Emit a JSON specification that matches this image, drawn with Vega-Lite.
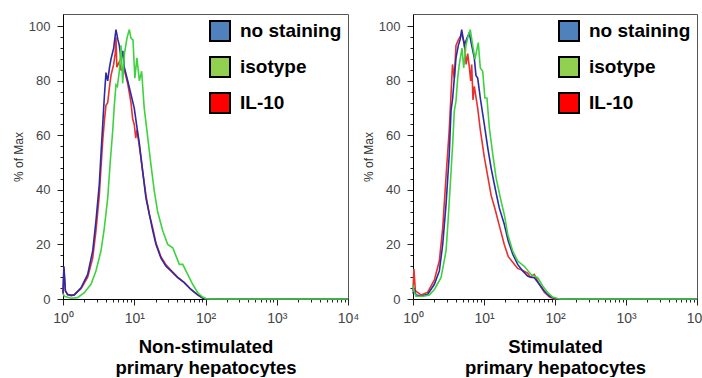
{
  "$schema": "https://vega.github.io/schema/vega-lite/v6.json",
  "padding": {"left": 11, "top": 13, "right": 0, "bottom": 0},
  "bounds": "flush",
  "spacing": 65,
  "datasets": {
    "ns": [
      {"s": "IL-10", "x": 1, "y": 2}, {"s": "IL-10", "x": 1.03, "y": 11}, {"s": "IL-10", "x": 1.08, "y": 3}, {"s": "IL-10", "x": 1.16, "y": 1.5}, {"s": "IL-10", "x": 1.44, "y": 1.6}, {"s": "IL-10", "x": 1.79, "y": 3.8}, {"s": "IL-10", "x": 2.22, "y": 8}, {"s": "IL-10", "x": 2.61, "y": 15}, {"s": "IL-10", "x": 2.9, "y": 25}, {"s": "IL-10", "x": 3.23, "y": 38}, {"s": "IL-10", "x": 3.41, "y": 48}, {"s": "IL-10", "x": 3.61, "y": 58}, {"s": "IL-10", "x": 3.8, "y": 65}, {"s": "IL-10", "x": 4.01, "y": 71}, {"s": "IL-10", "x": 4.24, "y": 72}, {"s": "IL-10", "x": 4.5, "y": 78}, {"s": "IL-10", "x": 4.72, "y": 82}, {"s": "IL-10", "x": 5.14, "y": 86}, {"s": "IL-10", "x": 5.4, "y": 90}, {"s": "IL-10", "x": 5.54, "y": 96}, {"s": "IL-10", "x": 5.7, "y": 85}, {"s": "IL-10", "x": 6.17, "y": 87}, {"s": "IL-10", "x": 6.52, "y": 84}, {"s": "IL-10", "x": 7.25, "y": 84}, {"s": "IL-10", "x": 8.09, "y": 79}, {"s": "IL-10", "x": 9.0, "y": 72}, {"s": "IL-10", "x": 9.5, "y": 66}, {"s": "IL-10", "x": 10.0, "y": 64}, {"s": "IL-10", "x": 10.5, "y": 59}, {"s": "IL-10", "x": 10.9, "y": 62}, {"s": "IL-10", "x": 11.8, "y": 56}, {"s": "IL-10", "x": 13.1, "y": 47}, {"s": "IL-10", "x": 14.6, "y": 38}, {"s": "IL-10", "x": 16.3, "y": 31}, {"s": "IL-10", "x": 18.2, "y": 26}, {"s": "IL-10", "x": 20.2, "y": 20.5}, {"s": "IL-10", "x": 23.7, "y": 15.5}, {"s": "IL-10", "x": 27.9, "y": 12.5}, {"s": "IL-10", "x": 32.8, "y": 10.5}, {"s": "IL-10", "x": 40.7, "y": 8}, {"s": "IL-10", "x": 50.4, "y": 6}, {"s": "IL-10", "x": 62.5, "y": 3.5}, {"s": "IL-10", "x": 77.8, "y": 1.5}, {"s": "IL-10", "x": 91.4, "y": 0.4}, {"s": "IL-10", "x": 100, "y": 0}, {"s": "IL-10", "x": 1000, "y": 0}, {"s": "IL-10", "x": 10000, "y": 0},
      {"s": "no staining", "x": 1, "y": 2}, {"s": "no staining", "x": 1.03, "y": 12}, {"s": "no staining", "x": 1.08, "y": 3}, {"s": "no staining", "x": 1.16, "y": 1.7}, {"s": "no staining", "x": 1.3, "y": 1.2}, {"s": "no staining", "x": 1.44, "y": 1.5}, {"s": "no staining", "x": 1.79, "y": 4.1}, {"s": "no staining", "x": 2.22, "y": 9}, {"s": "no staining", "x": 2.61, "y": 17.6}, {"s": "no staining", "x": 2.9, "y": 28.6}, {"s": "no staining", "x": 3.23, "y": 42}, {"s": "no staining", "x": 3.41, "y": 53}, {"s": "no staining", "x": 3.61, "y": 64}, {"s": "no staining", "x": 3.8, "y": 74}, {"s": "no staining", "x": 4.01, "y": 83}, {"s": "no staining", "x": 4.24, "y": 80}, {"s": "no staining", "x": 4.5, "y": 85}, {"s": "no staining", "x": 4.72, "y": 88}, {"s": "no staining", "x": 5.14, "y": 92}, {"s": "no staining", "x": 5.54, "y": 98.8}, {"s": "no staining", "x": 5.9, "y": 95}, {"s": "no staining", "x": 6.17, "y": 93}, {"s": "no staining", "x": 6.52, "y": 88}, {"s": "no staining", "x": 6.9, "y": 91}, {"s": "no staining", "x": 7.25, "y": 85}, {"s": "no staining", "x": 8.09, "y": 80}, {"s": "no staining", "x": 9.0, "y": 75}, {"s": "no staining", "x": 10.0, "y": 70}, {"s": "no staining", "x": 10.9, "y": 63}, {"s": "no staining", "x": 11.8, "y": 57}, {"s": "no staining", "x": 13.1, "y": 47}, {"s": "no staining", "x": 14.6, "y": 37}, {"s": "no staining", "x": 16.3, "y": 31}, {"s": "no staining", "x": 18.2, "y": 25}, {"s": "no staining", "x": 20.2, "y": 20}, {"s": "no staining", "x": 23.7, "y": 15}, {"s": "no staining", "x": 27.9, "y": 12}, {"s": "no staining", "x": 32.8, "y": 10.3}, {"s": "no staining", "x": 40.7, "y": 7.8}, {"s": "no staining", "x": 50.4, "y": 6}, {"s": "no staining", "x": 62.5, "y": 3.5}, {"s": "no staining", "x": 77.8, "y": 1.5}, {"s": "no staining", "x": 91.4, "y": 0.4}, {"s": "no staining", "x": 100, "y": 0}, {"s": "no staining", "x": 1000, "y": 0}, {"s": "no staining", "x": 10000, "y": 0},
      {"s": "isotype", "x": 1, "y": 2}, {"s": "isotype", "x": 1.05, "y": 1}, {"s": "isotype", "x": 1.1, "y": 0.8}, {"s": "isotype", "x": 1.3, "y": 0.3}, {"s": "isotype", "x": 1.6, "y": 0.5}, {"s": "isotype", "x": 1.99, "y": 2.3}, {"s": "isotype", "x": 2.47, "y": 5.4}, {"s": "isotype", "x": 2.9, "y": 10.3}, {"s": "isotype", "x": 3.41, "y": 17.6}, {"s": "isotype", "x": 3.8, "y": 26}, {"s": "isotype", "x": 4.24, "y": 37}, {"s": "isotype", "x": 4.61, "y": 50.5}, {"s": "isotype", "x": 4.98, "y": 61.5}, {"s": "isotype", "x": 5.25, "y": 71}, {"s": "isotype", "x": 5.54, "y": 78.6}, {"s": "isotype", "x": 5.8, "y": 78}, {"s": "isotype", "x": 6.17, "y": 83.5}, {"s": "isotype", "x": 6.52, "y": 93}, {"s": "isotype", "x": 6.88, "y": 79}, {"s": "isotype", "x": 7.25, "y": 89.6}, {"s": "isotype", "x": 7.91, "y": 95.7}, {"s": "isotype", "x": 8.53, "y": 98.8}, {"s": "isotype", "x": 9.0, "y": 95.7}, {"s": "isotype", "x": 9.6, "y": 95}, {"s": "isotype", "x": 10.2, "y": 81}, {"s": "isotype", "x": 10.9, "y": 88.4}, {"s": "isotype", "x": 11.8, "y": 80}, {"s": "isotype", "x": 12.7, "y": 83.5}, {"s": "isotype", "x": 13.8, "y": 70}, {"s": "isotype", "x": 15.5, "y": 59}, {"s": "isotype", "x": 17.2, "y": 49}, {"s": "isotype", "x": 19.1, "y": 39.6}, {"s": "isotype", "x": 21.3, "y": 32}, {"s": "isotype", "x": 25.1, "y": 25}, {"s": "isotype", "x": 29.5, "y": 20}, {"s": "isotype", "x": 34.7, "y": 18.8}, {"s": "isotype", "x": 38.5, "y": 15.8}, {"s": "isotype", "x": 42.9, "y": 12.7}, {"s": "isotype", "x": 47.9, "y": 12.7}, {"s": "isotype", "x": 56.2, "y": 9}, {"s": "isotype", "x": 66.1, "y": 5.4}, {"s": "isotype", "x": 77.8, "y": 2.3}, {"s": "isotype", "x": 91.4, "y": 0.7}, {"s": "isotype", "x": 101.6, "y": 0.2}, {"s": "isotype", "x": 120, "y": 0}, {"s": "isotype", "x": 1000, "y": 0}, {"s": "isotype", "x": 10000, "y": 0}
    ],
    "st": [
      {"s": "IL-10", "x": 1, "y": 3}, {"s": "IL-10", "x": 1.03, "y": 11}, {"s": "IL-10", "x": 1.08, "y": 3}, {"s": "IL-10", "x": 1.3, "y": 1.5}, {"s": "IL-10", "x": 1.61, "y": 2.5}, {"s": "IL-10", "x": 2.0, "y": 7}, {"s": "IL-10", "x": 2.35, "y": 14}, {"s": "IL-10", "x": 2.62, "y": 26}, {"s": "IL-10", "x": 2.92, "y": 45}, {"s": "IL-10", "x": 3.24, "y": 62}, {"s": "IL-10", "x": 3.43, "y": 75}, {"s": "IL-10", "x": 3.6, "y": 86}, {"s": "IL-10", "x": 3.82, "y": 81}, {"s": "IL-10", "x": 4.03, "y": 93}, {"s": "IL-10", "x": 4.35, "y": 95}, {"s": "IL-10", "x": 4.85, "y": 97}, {"s": "IL-10", "x": 5.28, "y": 94}, {"s": "IL-10", "x": 5.6, "y": 86}, {"s": "IL-10", "x": 5.9, "y": 90}, {"s": "IL-10", "x": 6.21, "y": 85}, {"s": "IL-10", "x": 6.5, "y": 80}, {"s": "IL-10", "x": 6.71, "y": 86}, {"s": "IL-10", "x": 7.0, "y": 73}, {"s": "IL-10", "x": 7.3, "y": 78}, {"s": "IL-10", "x": 8.15, "y": 70}, {"s": "IL-10", "x": 8.87, "y": 62}, {"s": "IL-10", "x": 10.1, "y": 52}, {"s": "IL-10", "x": 11.3, "y": 45}, {"s": "IL-10", "x": 12.6, "y": 38}, {"s": "IL-10", "x": 14.3, "y": 33}, {"s": "IL-10", "x": 16.4, "y": 27}, {"s": "IL-10", "x": 19.3, "y": 20}, {"s": "IL-10", "x": 22, "y": 15.5}, {"s": "IL-10", "x": 25.4, "y": 13.5}, {"s": "IL-10", "x": 29.8, "y": 11.2}, {"s": "IL-10", "x": 35.1, "y": 10.5}, {"s": "IL-10", "x": 41.2, "y": 9.5}, {"s": "IL-10", "x": 45, "y": 8}, {"s": "IL-10", "x": 51.1, "y": 9}, {"s": "IL-10", "x": 60.1, "y": 5.4}, {"s": "IL-10", "x": 70.7, "y": 2.5}, {"s": "IL-10", "x": 83.2, "y": 0.8}, {"s": "IL-10", "x": 97, "y": 0}, {"s": "IL-10", "x": 1000, "y": 0}, {"s": "IL-10", "x": 10000, "y": 0},
      {"s": "no staining", "x": 1, "y": 2}, {"s": "no staining", "x": 1.03, "y": 4}, {"s": "no staining", "x": 1.1, "y": 1.5}, {"s": "no staining", "x": 1.3, "y": 1.1}, {"s": "no staining", "x": 1.61, "y": 1.7}, {"s": "no staining", "x": 2.0, "y": 5.4}, {"s": "no staining", "x": 2.35, "y": 10.3}, {"s": "no staining", "x": 2.62, "y": 20}, {"s": "no staining", "x": 2.92, "y": 34.7}, {"s": "no staining", "x": 3.24, "y": 53}, {"s": "no staining", "x": 3.43, "y": 69}, {"s": "no staining", "x": 3.62, "y": 73.7}, {"s": "no staining", "x": 3.82, "y": 81}, {"s": "no staining", "x": 4.03, "y": 88.4}, {"s": "no staining", "x": 4.35, "y": 93}, {"s": "no staining", "x": 4.6, "y": 95}, {"s": "no staining", "x": 4.85, "y": 98.8}, {"s": "no staining", "x": 5.28, "y": 93}, {"s": "no staining", "x": 5.77, "y": 95.7}, {"s": "no staining", "x": 6.21, "y": 97.6}, {"s": "no staining", "x": 6.71, "y": 93}, {"s": "no staining", "x": 7.3, "y": 88.4}, {"s": "no staining", "x": 7.7, "y": 82}, {"s": "no staining", "x": 8.15, "y": 81}, {"s": "no staining", "x": 8.87, "y": 73.7}, {"s": "no staining", "x": 10.1, "y": 64}, {"s": "no staining", "x": 11.3, "y": 55.4}, {"s": "no staining", "x": 12.6, "y": 48}, {"s": "no staining", "x": 14.3, "y": 40.8}, {"s": "no staining", "x": 16.4, "y": 33.4}, {"s": "no staining", "x": 19.3, "y": 27.4}, {"s": "no staining", "x": 22.0, "y": 21.2}, {"s": "no staining", "x": 25.4, "y": 16.4}, {"s": "no staining", "x": 29.8, "y": 12.7}, {"s": "no staining", "x": 35.1, "y": 10.3}, {"s": "no staining", "x": 41.2, "y": 8.4}, {"s": "no staining", "x": 45, "y": 8}, {"s": "no staining", "x": 51.1, "y": 7.8}, {"s": "no staining", "x": 60.1, "y": 5.4}, {"s": "no staining", "x": 70.7, "y": 2.9}, {"s": "no staining", "x": 83.2, "y": 1.1}, {"s": "no staining", "x": 97.7, "y": 0.3}, {"s": "no staining", "x": 110, "y": 0}, {"s": "no staining", "x": 1000, "y": 0}, {"s": "no staining", "x": 10000, "y": 0},
      {"s": "isotype", "x": 1, "y": 5}, {"s": "isotype", "x": 1.03, "y": 3}, {"s": "isotype", "x": 1.1, "y": 1}, {"s": "isotype", "x": 1.4, "y": 1}, {"s": "isotype", "x": 1.7, "y": 1.5}, {"s": "isotype", "x": 2.0, "y": 3.5}, {"s": "isotype", "x": 2.48, "y": 7.8}, {"s": "isotype", "x": 2.92, "y": 17.6}, {"s": "isotype", "x": 3.14, "y": 29.8}, {"s": "isotype", "x": 3.35, "y": 42}, {"s": "isotype", "x": 3.62, "y": 56.7}, {"s": "isotype", "x": 3.82, "y": 69}, {"s": "isotype", "x": 4.03, "y": 72.5}, {"s": "isotype", "x": 4.26, "y": 81}, {"s": "isotype", "x": 4.49, "y": 86}, {"s": "isotype", "x": 4.9, "y": 92}, {"s": "isotype", "x": 5.18, "y": 84.7}, {"s": "isotype", "x": 5.57, "y": 93}, {"s": "isotype", "x": 5.89, "y": 95.7}, {"s": "isotype", "x": 6.41, "y": 98.8}, {"s": "isotype", "x": 6.93, "y": 93}, {"s": "isotype", "x": 7.47, "y": 88}, {"s": "isotype", "x": 8.31, "y": 94}, {"s": "isotype", "x": 8.87, "y": 84.7}, {"s": "isotype", "x": 9.59, "y": 83.5}, {"s": "isotype", "x": 10.3, "y": 73.7}, {"s": "isotype", "x": 11.0, "y": 73.7}, {"s": "isotype", "x": 11.9, "y": 62.7}, {"s": "isotype", "x": 13.3, "y": 53}, {"s": "isotype", "x": 14.8, "y": 44.4}, {"s": "isotype", "x": 17.4, "y": 35.9}, {"s": "isotype", "x": 19.3, "y": 31}, {"s": "isotype", "x": 21.6, "y": 23.7}, {"s": "isotype", "x": 25.4, "y": 17.6}, {"s": "isotype", "x": 29.8, "y": 13.9}, {"s": "isotype", "x": 37, "y": 12}, {"s": "isotype", "x": 45.9, "y": 9}, {"s": "isotype", "x": 57, "y": 7.8}, {"s": "isotype", "x": 67.1, "y": 4.8}, {"s": "isotype", "x": 78.9, "y": 2.3}, {"s": "isotype", "x": 92.9, "y": 0.7}, {"s": "isotype", "x": 109, "y": 0.2}, {"s": "isotype", "x": 120, "y": 0}, {"s": "isotype", "x": 1000, "y": 0}, {"s": "isotype", "x": 10000, "y": 0}
    ]
  },
  "hconcat": [
    {
      "data": {"name": "ns"},
      "width": 285,
      "height": 285,
      "encoding": {
        "x": {"field": "x", "type": "quantitative", "scale": {"type": "log", "domain": [1, 10000]},
          "axis": {"title": ["Non-stimulated", "primary hepatocytes"],
            "values": [1,2,3,4,5,6,7,8,9,10,20,30,40,50,60,70,80,90,100,200,300,400,500,600,700,800,900,1000,2000,3000,4000,5000,6000,7000,8000,9000,10000],
            "labelExpr": "indexof([1,10,100,1000,10000], datum.value) >= 0 ? '10' + ['⁰','¹','²','³','⁴'][round(log(datum.value)/LN10)] : ''",
            "tickSize": {"condition": {"test": "indexof([1,10,100,1000,10000], datum.value) >= 0", "value": 6}, "value": 3}}},
        "y": {"field": "y", "type": "quantitative", "scale": {"domain": [0, 104.5], "nice": false},
          "axis": {"title": "% of Max",
            "values": [0,4,8,12,16,20,24,28,32,36,40,44,48,52,56,60,64,68,72,76,80,84,88,92,96,100],
            "labelExpr": "datum.value % 20 === 0 ? datum.label : ''",
            "tickSize": {"condition": {"test": "datum.value % 20 === 0", "value": 6}, "value": 3}}}
      },
      "layer": [
        {
          "mark": {"type": "line", "strokeWidth": 1.6},
          "encoding": {
            "color": {"field": "s", "type": "nominal",
              "scale": {"domain": ["no staining", "isotype", "IL-10"], "range": ["#2b2ba6", "#3fd23f", "#e8312f"]},
              "legend": null}
          }
        },
        {
          "transform": [{"filter": "datum.y < 0"}],
          "mark": {"type": "point", "shape": "square", "filled": true, "stroke": "#000000", "strokeWidth": 2, "opacity": 1},
          "encoding": {
            "fill": {"field": "s", "type": "nominal",
              "scale": {"domain": ["no staining", "isotype", "IL-10"], "range": ["#4f81bd", "#92d050", "#ff0000"]},
              "legend": {"title": null, "orient": "top-right", "offset": 6}}
          }
        }
      ]
    },
    {
      "data": {"name": "st"},
      "width": 284,
      "height": 285,
      "encoding": {
        "x": {"field": "x", "type": "quantitative", "scale": {"type": "log", "domain": [1, 10000]},
          "axis": {"title": ["Stimulated", "primary hepatocytes"],
            "values": [1,2,3,4,5,6,7,8,9,10,20,30,40,50,60,70,80,90,100,200,300,400,500,600,700,800,900,1000,2000,3000,4000,5000,6000,7000,8000,9000,10000],
            "labelExpr": "indexof([1,10,100,1000,10000], datum.value) >= 0 ? '10' + ['⁰','¹','²','³','⁴'][round(log(datum.value)/LN10)] : ''",
            "tickSize": {"condition": {"test": "indexof([1,10,100,1000,10000], datum.value) >= 0", "value": 6}, "value": 3}}},
        "y": {"field": "y", "type": "quantitative", "scale": {"domain": [0, 104.5], "nice": false},
          "axis": {"title": "% of Max",
            "values": [0,4,8,12,16,20,24,28,32,36,40,44,48,52,56,60,64,68,72,76,80,84,88,92,96,100],
            "labelExpr": "datum.value % 20 === 0 ? datum.label : ''",
            "tickSize": {"condition": {"test": "datum.value % 20 === 0", "value": 6}, "value": 3}}}
      },
      "layer": [
        {
          "mark": {"type": "line", "strokeWidth": 1.6},
          "encoding": {
            "color": {"field": "s", "type": "nominal",
              "scale": {"domain": ["no staining", "isotype", "IL-10"], "range": ["#2b2ba6", "#3fd23f", "#e8312f"]},
              "legend": null}
          }
        },
        {
          "transform": [{"filter": "datum.y < 0"}],
          "mark": {"type": "point", "shape": "square", "filled": true, "stroke": "#000000", "strokeWidth": 2, "opacity": 1},
          "encoding": {
            "fill": {"field": "s", "type": "nominal",
              "scale": {"domain": ["no staining", "isotype", "IL-10"], "range": ["#4f81bd", "#92d050", "#ff0000"]},
              "legend": {"title": null, "orient": "top-right", "offset": 6}}
          }
        }
      ]
    }
  ],
  "resolve": {"legend": {"fill": "independent"}},
  "config": {
    "font": "Liberation Sans",
    "view": {"stroke": "#555555", "strokeWidth": 1},
    "axis": {
      "grid": false,
      "domainColor": "#000000",
      "domainWidth": 1,
      "tickColor": "#222222",
      "labelFont": "Liberation Sans",
      "labelFontSize": 13,
      "labelColor": "#444444",
      "labelOverlap": false,
      "labelFlush": false
    },
    "axisX": {
      "labelPadding": 6,
      "labelFontSize": 14,
      "titleFontSize": 18.5,
      "titleFontWeight": "bold",
      "titleColor": "#000000",
      "titleLineHeight": 21,
      "titlePadding": 12
    },
    "axisY": {
      "labelPadding": 7,
      "titleFontSize": 12,
      "titleFontWeight": "normal",
      "titleColor": "#333333",
      "titlePadding": 3
    },
    "legend": {
      "symbolType": "square",
      "symbolSize": 400,
      "symbolStrokeWidth": 2,
      "symbolStrokeColor": "#000000",
      "labelFont": "Liberation Sans",
      "labelFontSize": 19,
      "labelFontWeight": "bold",
      "labelColor": "#000000",
      "labelOffset": 9,
      "rowPadding": 8,
      "padding": 0,
      "labelLimit": 200,
      "symbolOpacity": 1
    }
  }
}
